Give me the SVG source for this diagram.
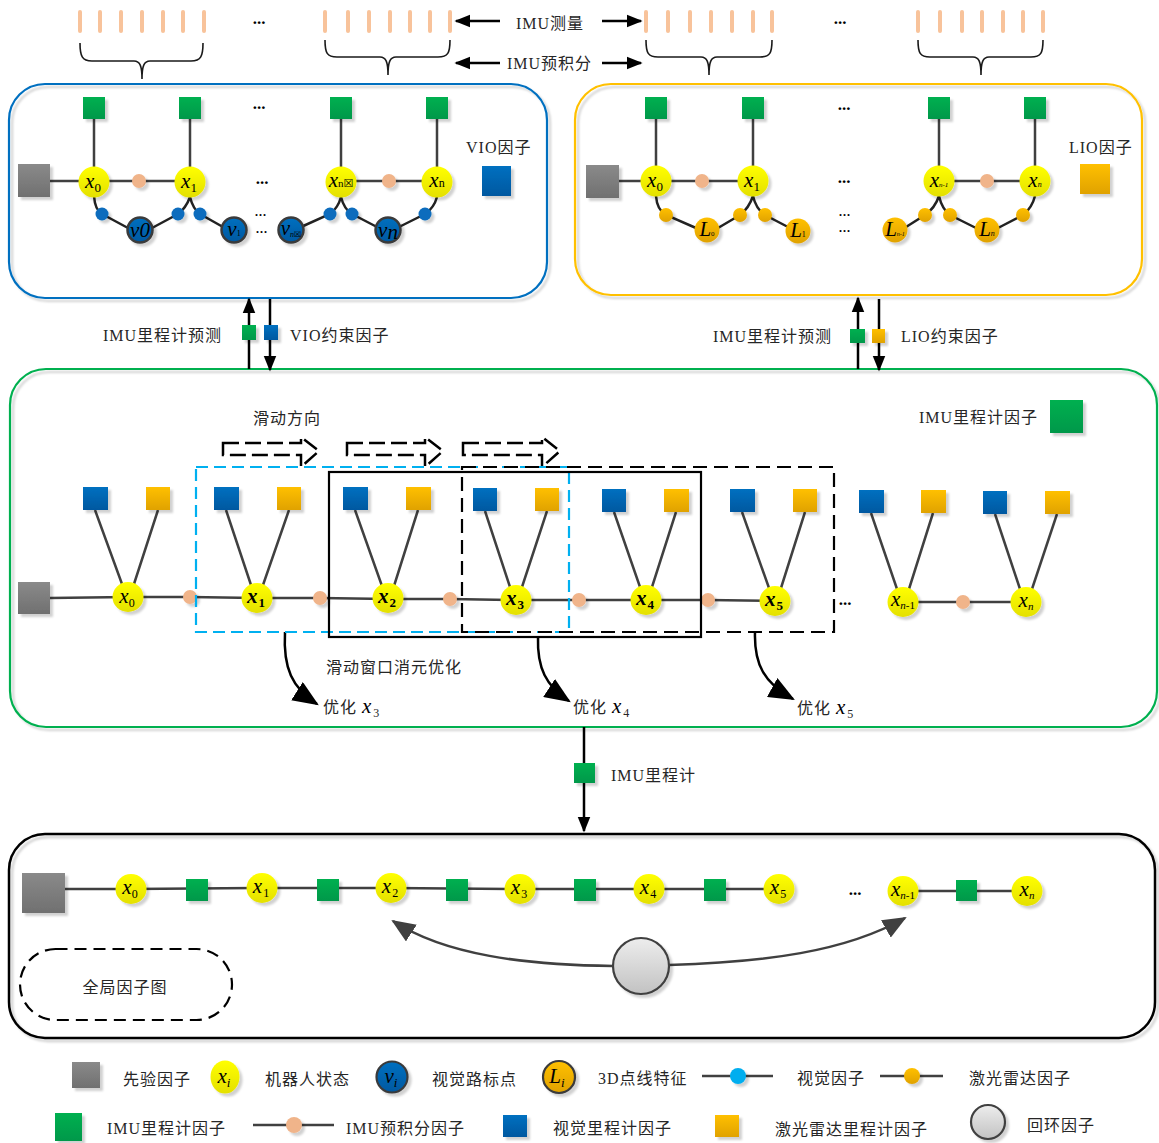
<svg xmlns="http://www.w3.org/2000/svg" width="1159" height="1143" viewBox="0 0 1159 1143">
<style>
.t{font-family:"Liberation Serif","Noto Sans CJK SC",serif;font-size:16px;fill:#262626;letter-spacing:1px}
.v{font-family:"Liberation Serif",serif;font-style:italic;font-size:21px;fill:#000}
.vb{font-family:"Liberation Serif",serif;font-style:italic;font-weight:bold;font-size:21px;fill:#000}
.dots{font-family:"Liberation Serif",serif;font-size:17px;fill:#000;font-weight:bold}
.sd{font-family:"Liberation Serif",serif;font-size:12px;fill:#000;font-weight:bold;letter-spacing:1px}
.ln{stroke:#404040;stroke-width:2.5;fill:none}
.cv{stroke:#222;stroke-width:2.5;fill:none}
.tick{fill:#F8C39B}
.br{stroke:#1a1a1a;stroke-width:1.6;fill:none}
.sqG{fill:url(#gG)}
.sqB{fill:url(#gB)}
.sqO{fill:url(#gO)}
.sqP{fill:url(#gP)}
.nd{fill:url(#gY)}
.pe{fill:#F0B48A}
.bd{fill:#0A6CBD}
.od{fill:url(#gO)}
.lmV{fill:url(#gB);stroke:#3a3a3a;stroke-width:2.5}
.lmL{fill:url(#gO)}
.sh{filter:url(#sh)}
</style>
<defs>
<linearGradient id="gG" x1="0" y1="0" x2="0" y2="1"><stop offset="0" stop-color="#00B050"/><stop offset="1" stop-color="#00984A"/></linearGradient>
<linearGradient id="gB" x1="0" y1="0" x2="0" y2="1"><stop offset="0" stop-color="#0070C0"/><stop offset="1" stop-color="#0058A0"/></linearGradient>
<linearGradient id="gO" x1="0" y1="0" x2="0" y2="1"><stop offset="0" stop-color="#FFC000"/><stop offset="1" stop-color="#E0A200"/></linearGradient>
<linearGradient id="gP" x1="0" y1="0" x2="0" y2="1"><stop offset="0" stop-color="#8a8a8a"/><stop offset="1" stop-color="#707070"/></linearGradient>
<linearGradient id="gY" x1="0" y1="0" x2="0" y2="1"><stop offset="0" stop-color="#FFFF00"/><stop offset="1" stop-color="#E4E000"/></linearGradient>
<linearGradient id="gL" x1="0" y1="0" x2="0" y2="1"><stop offset="0" stop-color="#EDEDED"/><stop offset="1" stop-color="#C2C2C2"/></linearGradient>
<filter id="sh" x="-20%" y="-20%" width="150%" height="150%"><feDropShadow dx="3" dy="3" stdDeviation="0.8" flood-color="#000" flood-opacity="0.18"/></filter>
<marker id="ah" viewBox="0 0 10 10" refX="9" refY="5" markerWidth="16" markerHeight="16" markerUnits="userSpaceOnUse" orient="auto"><path d="M0,1 L10,5 L0,9 Z" fill="#000"/></marker>
<marker id="ahB" viewBox="0 0 12 10" refX="11" refY="5" markerWidth="26" markerHeight="21.6" markerUnits="userSpaceOnUse" orient="auto"><path d="M0,0 L12,5 L0,10 Z" fill="#000"/></marker>
<marker id="ahG" viewBox="0 0 12 10" refX="11" refY="5" markerWidth="24" markerHeight="20" markerUnits="userSpaceOnUse" orient="auto"><path d="M0,0 L12,5 L0,10 Z" fill="#404040"/></marker>
</defs>
<rect width="1159" height="1143" fill="#fff"/>

<!-- Top IMU measurements -->
<g id="imu-ticks">
<rect class="tick" x="78" y="10" width="4" height="23" rx="2"/><rect class="tick" x="98" y="10" width="4" height="23" rx="2"/><rect class="tick" x="119" y="10" width="4" height="23" rx="2"/><rect class="tick" x="140" y="10" width="4" height="23" rx="2"/><rect class="tick" x="161" y="10" width="4" height="23" rx="2"/><rect class="tick" x="181" y="10" width="4" height="23" rx="2"/><rect class="tick" x="202" y="10" width="4" height="23" rx="2"/>
<rect class="tick" x="323" y="10" width="4" height="23" rx="2"/><rect class="tick" x="346" y="10" width="4" height="23" rx="2"/><rect class="tick" x="367" y="10" width="4" height="23" rx="2"/><rect class="tick" x="388" y="10" width="4" height="23" rx="2"/><rect class="tick" x="408" y="10" width="4" height="23" rx="2"/><rect class="tick" x="428" y="10" width="4" height="23" rx="2"/><rect class="tick" x="448" y="10" width="4" height="23" rx="2"/>
<rect class="tick" x="644" y="10" width="4" height="23" rx="2"/><rect class="tick" x="666" y="10" width="4" height="23" rx="2"/><rect class="tick" x="688" y="10" width="4" height="23" rx="2"/><rect class="tick" x="709" y="10" width="4" height="23" rx="2"/><rect class="tick" x="730" y="10" width="4" height="23" rx="2"/><rect class="tick" x="751" y="10" width="4" height="23" rx="2"/><rect class="tick" x="770" y="10" width="4" height="23" rx="2"/>
<rect class="tick" x="916" y="10" width="4" height="23" rx="2"/><rect class="tick" x="938" y="10" width="4" height="23" rx="2"/><rect class="tick" x="960" y="10" width="4" height="23" rx="2"/><rect class="tick" x="980" y="10" width="4" height="23" rx="2"/><rect class="tick" x="1001" y="10" width="4" height="23" rx="2"/><rect class="tick" x="1021" y="10" width="4" height="23" rx="2"/><rect class="tick" x="1041" y="10" width="4" height="23" rx="2"/>
<text class="dots" x="259" y="24" text-anchor="middle">...</text>
<text class="dots" x="840" y="24" text-anchor="middle">...</text>
</g>
<g id="braces">
<path class="br" d="M80,43 C80,56 82,61 92,61 L134,61 C140,61 142,66 142,79 C142,66 144,61 150,61 L191,61 C201,61 203,56 203,43"/>
<path class="br" d="M325,40 C325,53 327,57 337,57 L380,57 C386,57 388,62 388,75 C388,62 390,57 396,57 L438,57 C448,57 450,53 450,40"/>
<path class="br" d="M646,40 C646,53 648,57 658,57 L701,57 C707,57 709,62 709,75 C709,62 711,57 717,57 L760,57 C770,57 772,53 772,40"/>
<path class="br" d="M918,40 C918,53 920,57 930,57 L973,57 C979,57 981,62 981,75 C981,62 983,57 989,57 L1031,57 C1041,57 1043,53 1043,40"/>
</g>
<g id="imu-labels">
<text class="t" x="516" y="29">IMU测量</text>
<text class="t" x="507" y="69" letter-spacing="2">IMU预积分</text>
<line x1="500" y1="21" x2="456" y2="21" stroke="#000" stroke-width="2.5" marker-end="url(#ah)"/>
<line x1="602" y1="21" x2="641" y2="21" stroke="#000" stroke-width="2.5" marker-end="url(#ah)"/>
<line x1="500" y1="63" x2="456" y2="63" stroke="#000" stroke-width="2.5" marker-end="url(#ah)"/>
<line x1="602" y1="63" x2="641" y2="63" stroke="#000" stroke-width="2.5" marker-end="url(#ah)"/>
</g>

<!-- Panels -->
<g id="vio-panel"><rect class="sh" x="9" y="84" width="538" height="214" rx="36" fill="none" stroke="#0070C0" stroke-width="2.2"/></g>
<g id="lio-panel"><rect class="sh" x="575" y="84" width="567" height="211" rx="36" fill="none" stroke="#FFC000" stroke-width="2.2"/></g>
<g id="swf-panel"><rect class="sh" x="10" y="369" width="1147" height="358" rx="36" fill="none" stroke="#00B050" stroke-width="2.2"/></g>
<g id="global-panel"><rect class="sh" x="9" y="834" width="1146" height="204" rx="36" fill="none" stroke="#000" stroke-width="2.5"/></g>

<!-- connectors -->
<g id="connectors">
<path class="ln" d="M94,119 V167 M190,119 V167 M341,119 V167 M437,119 V167 M50,181 H190 M341,181 H437"/>
<path class="cv" d="M94,196 Q95,210 102,214 L128,228 M152,228 L178,214 Q186,208 190,197 Q193,209 200,214 L223,227 M301,227 L330,214 Q338,208 341,197 Q344,209 352,214 L377,227 M399,227 L425,214 Q434,208 437,197"/>
<path class="ln" d="M656,119 V166 M753,119 V166 M939,119 V166 M1035,119 V166 M619,181 H753 M939,181 H1035"/>
<path class="cv" d="M656,196 Q657,210 666,215 L696,228 M718,228 L740,215 Q749,208 753,196 Q756,209 765,215 L788,227 M906,227 L925,215 Q935,208 939,196 Q942,209 950,215 L976,228 M998,228 L1023,215 Q1032,208 1035,196"/>
<line x1="249" y1="369" x2="249" y2="299" stroke="#000" stroke-width="2.5" marker-end="url(#ah)"/>
<line x1="270" y1="299" x2="270" y2="370" stroke="#000" stroke-width="2.5" marker-end="url(#ah)"/>
<line x1="858" y1="369" x2="858" y2="298" stroke="#000" stroke-width="2.5" marker-end="url(#ah)"/>
<line x1="879" y1="299" x2="879" y2="370" stroke="#000" stroke-width="2.5" marker-end="url(#ah)"/>
<line x1="584" y1="727" x2="584" y2="831" stroke="#000" stroke-width="2.5" marker-end="url(#ah)"/>
<polyline class="ln" points="50,598 128,597 190,597 257,598 320,598 388,599 450,599 516,600 579,600 646,600 708,600 775,601"/>
<line class="ln" x1="903" y1="602" x2="1026" y2="602"/>
<path class="ln" d="M95,510 L122,584 M158,510 L134,584 M226,510 L251,585 M289,510 L263,585 M355,510 L382,586 M418,510 L394,586 M485,511 L510,587 M547,511 L522,587 M614,512 L640,587 M676,512 L652,587 M742,512 L769,588 M805,512 L781,588 M871,513 L897,589 M933,513 L909,589 M995,514 L1020,589 M1057,514 L1032,589"/>
<polyline class="ln" points="65,889 131,889 262,888 391,888 520,889 649,889 779,889"/>
<line class="ln" x1="903" y1="891" x2="1027" y2="891"/>
<path d="M613,966 C525,965 445,955 393,921" stroke="#404040" stroke-width="2.5" fill="none" marker-end="url(#ahG)"/>
<path d="M669,965 C765,962 845,952 905,918" stroke="#404040" stroke-width="2.5" fill="none" marker-end="url(#ahG)"/>
<path d="M285,632 C283,668 292,688 317,704" stroke="#000" stroke-width="2.5" fill="none" marker-end="url(#ahB)"/>
<path d="M538,637 C537,668 546,686 569,701" stroke="#000" stroke-width="2.5" fill="none" marker-end="url(#ahB)"/>
<path d="M755,632 C754,664 764,683 793,699" stroke="#000" stroke-width="2.5" fill="none" marker-end="url(#ahB)"/>
</g>

<!-- VIO nodes -->
<g id="vio-nodes">
<g class="sh"><rect class="sqG" x="83" y="97" width="22" height="22"/><rect class="sqG" x="179" y="97" width="22" height="22"/><rect class="sqG" x="330" y="97" width="22" height="22"/><rect class="sqG" x="426" y="97" width="22" height="22"/>
<rect class="sqP" x="18" y="164" width="32" height="33"/>
<circle class="pe" cx="139" cy="181" r="7"/><circle class="pe" cx="389" cy="181" r="7"/>
<circle class="bd" cx="102" cy="214" r="6.5"/><circle class="bd" cx="178" cy="214" r="6.5"/><circle class="bd" cx="200" cy="214" r="6.5"/><circle class="bd" cx="330" cy="214" r="6.5"/><circle class="bd" cx="352" cy="214" r="6.5"/><circle class="bd" cx="425" cy="214" r="6.5"/>
<circle class="nd" cx="94" cy="182" r="15.5"/><circle class="nd" cx="190" cy="182" r="15.5"/><circle class="nd" cx="341" cy="182" r="15.5"/><circle class="nd" cx="437" cy="182" r="15.5"/>
<circle class="lmV" cx="140" cy="230" r="12.5"/><circle class="lmV" cx="234" cy="230" r="12.5"/><circle class="lmV" cx="291" cy="230" r="12.5"/><circle class="lmV" cx="388" cy="230" r="12.5"/>
<rect class="sqB" x="482" y="166" width="29" height="30"/></g>
<text class="v" x="93" y="188" text-anchor="middle">x<tspan font-style="normal" font-size="13" dy="4">0</tspan></text>
<text class="v" x="189" y="188" text-anchor="middle">x<tspan font-style="normal" font-size="13" dy="4">1</tspan></text>
<text class="v" x="341" y="187" text-anchor="middle" font-size="19">x<tspan font-style="normal" font-size="11">n</tspan><tspan font-style="normal" font-size="11" font-family="DejaVu Sans">☒</tspan></text>
<text class="v" x="437" y="187" text-anchor="middle">x<tspan font-style="normal" font-size="12">n</tspan></text>
<text class="v" x="140" y="237" text-anchor="middle" font-size="19">v0</text>
<text class="v" x="234" y="236" text-anchor="middle" font-size="16">v<tspan font-style="normal" font-size="8">1</tspan></text>
<text class="v" x="291" y="235" text-anchor="middle" font-size="15">v<tspan font-size="8" dy="2">n</tspan><tspan font-style="normal" font-size="8" font-family="DejaVu Sans">☒</tspan></text>
<text class="v" x="388" y="237" text-anchor="middle" font-size="19">v<tspan dy="2">n</tspan></text>
<text class="dots" x="259" y="109" text-anchor="middle">...</text>
<text class="dots" x="262" y="184" text-anchor="middle">...</text>
<text class="sd" x="261" y="216" text-anchor="middle">...</text>
<text class="sd" x="262" y="233" text-anchor="middle">...</text>
<text class="t" x="466" y="153">VIO因子</text>
</g>

<!-- LIO nodes -->
<g id="lio-nodes">
<g class="sh"><rect class="sqG" x="645" y="97" width="22" height="22"/><rect class="sqG" x="742" y="97" width="22" height="22"/><rect class="sqG" x="928" y="97" width="22" height="22"/><rect class="sqG" x="1024" y="97" width="22" height="22"/>
<rect class="sqP" x="586" y="165" width="33" height="33"/>
<circle class="pe" cx="702" cy="181" r="7"/><circle class="pe" cx="987" cy="181" r="7"/>
<circle class="od" cx="666" cy="215" r="7"/><circle class="od" cx="740" cy="215" r="7"/><circle class="od" cx="765" cy="215" r="7"/><circle class="od" cx="925" cy="215" r="7"/><circle class="od" cx="950" cy="215" r="7"/><circle class="od" cx="1023" cy="215" r="7"/>
<circle class="nd" cx="656" cy="181" r="15.5"/><circle class="nd" cx="753" cy="181" r="15.5"/><circle class="nd" cx="939" cy="181" r="15.5"/><circle class="nd" cx="1035" cy="181" r="15.5"/>
<circle class="lmL" cx="707" cy="230" r="12.5"/><circle class="lmL" cx="798" cy="231" r="12.5"/><circle class="lmL" cx="895" cy="230" r="12.5"/><circle class="lmL" cx="987" cy="230" r="12.5"/>
<rect class="sqO" x="1080" y="164" width="30" height="30"/></g>
<text class="v" x="655" y="187" text-anchor="middle">x<tspan font-style="normal" font-size="13" dy="4">0</tspan></text>
<text class="v" x="752" y="187" text-anchor="middle">x<tspan font-style="normal" font-size="13" dy="4">1</tspan></text>
<text class="v" x="939" y="187" text-anchor="middle" font-size="19">x<tspan font-size="7">n-1</tspan></text>
<text class="v" x="1035" y="187" text-anchor="middle" font-size="19">x<tspan font-size="8">n</tspan></text>
<text class="v" x="707" y="236" text-anchor="middle" font-size="15">L<tspan font-style="normal" font-size="7">0</tspan></text>
<text class="v" x="798" y="237" text-anchor="middle" font-size="16">L<tspan font-style="normal" font-size="8">1</tspan></text>
<text class="v" x="895" y="236" text-anchor="middle" font-size="15">L<tspan font-size="6">n-1</tspan></text>
<text class="v" x="987" y="236" text-anchor="middle" font-size="16">L<tspan font-size="8">n</tspan></text>
<text class="dots" x="844" y="110" text-anchor="middle">...</text>
<text class="dots" x="844" y="183" text-anchor="middle">...</text>
<text class="sd" x="845" y="216" text-anchor="middle">...</text>
<text class="sd" x="845" y="232" text-anchor="middle" font-weight="normal">...</text>
<text class="t" x="1069" y="153">LIO因子</text>
</g>

<g id="vio-link">
<rect class="sqG sh" x="242" y="325" width="14" height="15"/><rect class="sqB sh" x="264" y="325" width="14" height="15"/>
<text class="t" x="103" y="341">IMU里程计预测</text>
<text class="t" x="290" y="341">VIO约束因子</text>
</g>
<g id="lio-link">
<rect class="sqG sh" x="850" y="329" width="15" height="14"/><rect class="sqO sh" x="872" y="329" width="13" height="14"/>
<text class="t" x="713" y="342">IMU里程计预测</text>
<text class="t" x="901" y="342">LIO约束因子</text>
</g>

<!-- Sliding window panel -->
<g id="swf-nodes">
<text class="t" x="919" y="423">IMU里程计因子</text>
<rect class="sqG sh" x="1050" y="400" width="33" height="33"/>
<text class="t" x="253" y="424" letter-spacing="2">滑动方向</text>
<g fill="none" stroke="#000" stroke-width="2.5" stroke-dasharray="16,6">
<path d="M223,443 L301,443 L301,437 L319,451 L301,467 L301,455 L223,455 Z"/>
<path d="M347,443 L425,443 L425,437 L443,451 L425,467 L425,455 L347,455 Z"/>
<path d="M463,443 L542,443 L542,437 L560,451 L542,467 L542,455 L463,455 Z"/>
</g>
<g class="sh">
<rect class="sqP" x="18" y="582" width="32" height="32"/>
<rect class="sqB" x="83" y="487" width="25" height="23"/><rect class="sqO" x="146" y="487" width="24" height="23"/>
<rect class="sqB" x="214" y="487" width="25" height="23"/><rect class="sqO" x="277" y="487" width="24" height="23"/>
<rect class="sqB" x="343" y="487" width="25" height="23"/><rect class="sqO" x="406" y="487" width="25" height="23"/>
<rect class="sqB" x="473" y="488" width="24" height="23"/><rect class="sqO" x="535" y="488" width="24" height="23"/>
<rect class="sqB" x="602" y="489" width="24" height="23"/><rect class="sqO" x="664" y="489" width="25" height="23"/>
<rect class="sqB" x="730" y="489" width="25" height="23"/><rect class="sqO" x="793" y="489" width="24" height="23"/>
<rect class="sqB" x="859" y="490" width="25" height="23"/><rect class="sqO" x="921" y="490" width="25" height="23"/>
<rect class="sqB" x="983" y="491" width="24" height="23"/><rect class="sqO" x="1045" y="491" width="25" height="23"/>
<circle class="pe" cx="190" cy="597" r="7"/><circle class="pe" cx="320" cy="598" r="7"/><circle class="pe" cx="450" cy="599" r="7"/><circle class="pe" cx="579" cy="600" r="7"/><circle class="pe" cx="708" cy="600" r="7"/><circle class="pe" cx="963" cy="602" r="7"/>
<ellipse class="nd" cx="128" cy="597" rx="15.5" ry="15"/><ellipse class="nd" cx="257" cy="598" rx="15.5" ry="15"/><ellipse class="nd" cx="388" cy="598" rx="15.5" ry="15"/><ellipse class="nd" cx="516" cy="600" rx="15.5" ry="15"/><ellipse class="nd" cx="646" cy="600" rx="15.5" ry="15"/><ellipse class="nd" cx="775" cy="601" rx="15.5" ry="15"/><ellipse class="nd" cx="903" cy="602" rx="15.5" ry="15"/><ellipse class="nd" cx="1026" cy="602" rx="15.5" ry="15"/>
</g>
<text class="v" x="127" y="603" text-anchor="middle" font-size="20">x<tspan font-style="normal" font-size="12" dy="4">0</tspan></text>
<text class="vb" x="256" y="603" text-anchor="middle">x<tspan font-size="13" font-style="normal" dx="1" dy="4">1</tspan></text>
<text class="vb" x="387" y="603" text-anchor="middle">x<tspan font-size="13" font-style="normal" dx="1" dy="4">2</tspan></text>
<text class="vb" x="515" y="605" text-anchor="middle">x<tspan font-size="13" font-style="normal" dx="1" dy="4">3</tspan></text>
<text class="vb" x="645" y="605" text-anchor="middle">x<tspan font-size="13" font-style="normal" dx="1" dy="4">4</tspan></text>
<text class="vb" x="774" y="606" text-anchor="middle">x<tspan font-size="13" font-style="normal" dx="1" dy="4">5</tspan></text>
<text class="v" x="903" y="606" text-anchor="middle" font-size="19">x<tspan font-size="11" dy="3">n</tspan><tspan font-style="normal" font-size="11">-1</tspan></text>
<text class="v" x="1026" y="607" text-anchor="middle" font-size="19">x<tspan font-size="11" dy="3">n</tspan></text>
<text class="dots" x="845" y="605" text-anchor="middle">...</text>
</g>

<g id="windows" fill="none">
<rect x="196" y="467" width="373" height="165" stroke="#00B0F0" stroke-width="2.2" stroke-dasharray="12,6"/>
<rect x="329" y="472" width="372" height="165" stroke="#000" stroke-width="2.2"/>
<rect x="462" y="467" width="372" height="165" stroke="#000" stroke-width="2.2" stroke-dasharray="14,7"/>
</g>
<g id="opt-labels">
<text class="t" x="326" y="673" letter-spacing="1.5">滑动窗口消元优化</text>
<text class="t" x="323" y="713">优化 <tspan class="v" font-size="20" letter-spacing="0">x</tspan><tspan font-size="12" dx="2" dy="4" letter-spacing="0">3</tspan></text>
<text class="t" x="573" y="713">优化 <tspan class="v" font-size="20" letter-spacing="0">x</tspan><tspan font-size="12" dx="2" dy="4" letter-spacing="0">4</tspan></text>
<text class="t" x="797" y="714">优化 <tspan class="v" font-size="20" letter-spacing="0">x</tspan><tspan font-size="12" dx="2" dy="4" letter-spacing="0">5</tspan></text>
</g>

<g id="imu-odom-link">
<rect class="sqG sh" x="574" y="763" width="21" height="20"/>
<text class="t" x="611" y="781">IMU里程计</text>
</g>

<!-- Global factor graph -->
<g id="global-nodes">
<g class="sh">
<rect class="sqP" x="22" y="873" width="43" height="40"/>
<rect class="sqG" x="186" y="879" width="22" height="22"/><rect class="sqG" x="317" y="879" width="22" height="22"/><rect class="sqG" x="446" y="879" width="22" height="22"/><rect class="sqG" x="574" y="879" width="22" height="22"/><rect class="sqG" x="704" y="879" width="22" height="22"/><rect class="sqG" x="956" y="880" width="21" height="21"/>
<ellipse class="nd" cx="131" cy="889" rx="15.5" ry="15"/><ellipse class="nd" cx="262" cy="888" rx="15.5" ry="15"/><ellipse class="nd" cx="391" cy="888" rx="15.5" ry="15"/><ellipse class="nd" cx="520" cy="889" rx="15.5" ry="15"/><ellipse class="nd" cx="649" cy="889" rx="15.5" ry="15"/><ellipse class="nd" cx="779" cy="889" rx="15.5" ry="15"/><ellipse class="nd" cx="903" cy="891" rx="15.5" ry="15"/><ellipse class="nd" cx="1027" cy="891" rx="15.5" ry="15"/>
<circle cx="641" cy="966" r="28" fill="url(#gL)" stroke="#404040" stroke-width="2.2"/>
</g>
<text class="v" x="130" y="894" text-anchor="middle">x<tspan font-style="normal" font-size="12" dy="4">0</tspan></text>
<text class="v" x="261" y="893" text-anchor="middle">x<tspan font-style="normal" font-size="12" dx="1" dy="4">1</tspan></text>
<text class="v" x="390" y="893" text-anchor="middle">x<tspan font-style="normal" font-size="12" dx="1" dy="4">2</tspan></text>
<text class="v" x="519" y="894" text-anchor="middle">x<tspan font-style="normal" font-size="12" dx="1" dy="4">3</tspan></text>
<text class="v" x="648" y="894" text-anchor="middle">x<tspan font-style="normal" font-size="12" dx="1" dy="4">4</tspan></text>
<text class="v" x="778" y="894" text-anchor="middle">x<tspan font-style="normal" font-size="12" dx="1" dy="4">5</tspan></text>
<text class="v" x="903" y="896" text-anchor="middle" font-size="19">x<tspan font-size="11" dy="3">n</tspan><tspan font-style="normal" font-size="11">-1</tspan></text>
<text class="v" x="1027" y="896" text-anchor="middle" font-size="19">x<tspan font-size="11" dy="3">n</tspan></text>
<text class="dots" x="855" y="895" text-anchor="middle">...</text>
<rect x="20" y="949" width="212" height="71" rx="35.5" fill="none" stroke="#000" stroke-width="2.2" stroke-dasharray="12,7"/>
<text class="t" x="125" y="993" text-anchor="middle">全局因子图</text>
</g>

<!-- Legend -->
<g id="legend">
<g class="sh">
<rect class="sqP" x="72" y="1062" width="28" height="26"/>
<ellipse class="nd" cx="225" cy="1077" rx="14.5" ry="16.5"/>
<circle cx="392" cy="1077" r="15.5" fill="url(#gB)" stroke="#3a3a3a" stroke-width="2.2"/>
<circle cx="559" cy="1077" r="16" fill="url(#gO)" stroke="#3a3a3a" stroke-width="2.2"/>
<rect class="sqG" x="55" y="1113" width="27" height="28"/>
<rect class="sqB" x="503" y="1115" width="24" height="22"/>
<rect class="sqO" x="715" y="1115" width="24" height="22"/>
<circle cx="988" cy="1122" r="17" fill="url(#gL)" stroke="#404040" stroke-width="2.2"/>
</g>
<line class="ln" x1="702" y1="1076" x2="773" y2="1076"/><circle class="sh" cx="738" cy="1076" r="8" fill="#00AEEF"/>
<line class="ln" x1="880" y1="1076" x2="943" y2="1076"/><circle class="sh od" cx="912" cy="1076" r="8"/>
<line class="ln" x1="253" y1="1125" x2="334" y2="1125"/><circle class="sh pe" cx="294" cy="1125" r="8"/>
<text class="v" x="224" y="1083" text-anchor="middle" font-size="22">x<tspan font-size="13" dy="4">i</tspan></text>
<text class="v" x="391" y="1083" text-anchor="middle" font-size="22">v<tspan font-size="13" dy="4">i</tspan></text>
<text class="v" x="557" y="1083" text-anchor="middle" font-size="22">L<tspan font-size="13" dy="4">i</tspan></text>
<text class="t" x="123" y="1085">先验因子</text>
<text class="t" x="265" y="1085">机器人状态</text>
<text class="t" x="432" y="1085">视觉路标点</text>
<text class="t" x="598" y="1084">3D点线特征</text>
<text class="t" x="797" y="1084">视觉因子</text>
<text class="t" x="969" y="1084">激光雷达因子</text>
<text class="t" x="107" y="1134">IMU里程计因子</text>
<text class="t" x="346" y="1134">IMU预积分因子</text>
<text class="t" x="553" y="1134">视觉里程计因子</text>
<text class="t" x="775" y="1135">激光雷达里程计因子</text>
<text class="t" x="1027" y="1131">回环因子</text>
</g>
</svg>
